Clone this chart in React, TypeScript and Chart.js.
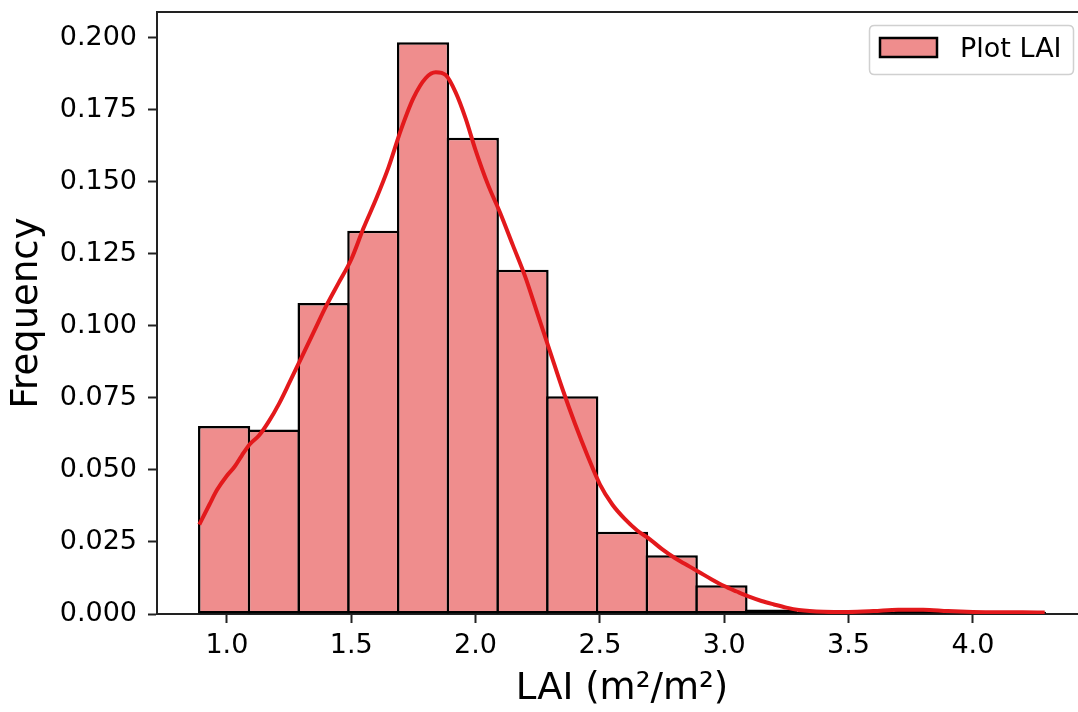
import React, { useEffect, useRef } from 'react';
import { Chart, registerables } from 'chart.js';

Chart.register(...registerables);

// Histogram bins (width 0.2, first edge 0.889)
const binCenters = [0.989, 1.189, 1.389, 1.589, 1.789, 1.989, 2.189, 2.389, 2.589, 2.789, 2.989, 3.189, 3.389, 3.589, 3.789, 3.989, 4.189];
const binFreq = [0.0652, 0.0640, 0.1079, 0.1330, 0.1984, 0.1653, 0.1195, 0.0756, 0.0285, 0.0204, 0.0100, 0.0016, 0.0008, 0.0008, 0.0016, 0.0, 0.0008];

// KDE curve
const kdeX = [0.889, 0.93, 0.96, 1.0, 1.03, 1.06, 1.093, 1.13, 1.17, 1.21, 1.25, 1.30, 1.35, 1.40, 1.45, 1.50, 1.55, 1.60, 1.65, 1.70, 1.75, 1.80, 1.84, 1.88, 1.92, 1.96, 2.00, 2.05, 2.10, 2.15, 2.20, 2.25, 2.30, 2.35, 2.40, 2.45, 2.50, 2.55, 2.60, 2.65, 2.70, 2.75, 2.80, 2.85, 2.90, 2.95, 3.00, 3.05, 3.10, 3.15, 3.20, 3.25, 3.30, 3.40, 3.50, 3.60, 3.70, 3.80, 3.90, 4.00, 4.10, 4.20, 4.289];
const kdeY = [0.031, 0.038, 0.043, 0.048, 0.051, 0.055, 0.059, 0.062, 0.067, 0.073, 0.080, 0.089, 0.098, 0.107, 0.115, 0.123, 0.134, 0.144, 0.155, 0.168, 0.179, 0.186, 0.188, 0.187, 0.181, 0.172, 0.161, 0.149, 0.139, 0.128, 0.117, 0.104, 0.091, 0.078, 0.066, 0.055, 0.045, 0.038, 0.033, 0.029, 0.026, 0.0225, 0.0195, 0.017, 0.0145, 0.012, 0.0097, 0.0078, 0.006, 0.0045, 0.0033, 0.0022, 0.0014, 0.0008, 0.0007, 0.001, 0.0015, 0.0015, 0.001, 0.0007, 0.0006, 0.0006, 0.0005];

const xTicks = [1.0, 1.5, 2.0, 2.5, 3.0, 3.5, 4.0];
const yTicks = [0, 0.025, 0.05, 0.075, 0.1, 0.125, 0.15, 0.175, 0.2];

const legendLabel = 'Plot LAI';
const xTitle = 'LAI (m²/m²)';
const yTitle = 'Frequency';

const FONT = 'DejaVu Sans';
const BAR_COLOR = '#EF8D8D';
const LINE_COLOR = '#E3191C';
const SPINE = '#222222';

const framePlugin = {
  id: 'frameAndLegend',
  afterDraw(chart: any) {
    const { ctx, chartArea } = chart;
    ctx.save();
    // top & right spines
    ctx.strokeStyle = SPINE;
    ctx.lineWidth = 2;
    ctx.beginPath();
    ctx.moveTo(chartArea.left - 1, chartArea.top);
    ctx.lineTo(chartArea.right, chartArea.top);
    ctx.lineTo(chartArea.right, chartArea.bottom);
    ctx.stroke();

    // legend box
    const bx = 869.5, by = 25.5, bw = 204, bh = 49, r = 5;
    ctx.beginPath();
    ctx.moveTo(bx + r, by);
    ctx.lineTo(bx + bw - r, by);
    ctx.quadraticCurveTo(bx + bw, by, bx + bw, by + r);
    ctx.lineTo(bx + bw, by + bh - r);
    ctx.quadraticCurveTo(bx + bw, by + bh, bx + bw - r, by + bh);
    ctx.lineTo(bx + r, by + bh);
    ctx.quadraticCurveTo(bx, by + bh, bx, by + bh - r);
    ctx.lineTo(bx, by + r);
    ctx.quadraticCurveTo(bx, by, bx + r, by);
    ctx.closePath();
    ctx.fillStyle = 'rgba(255,255,255,0.8)';
    ctx.fill();
    ctx.strokeStyle = '#d0d0d0';
    ctx.lineWidth = 1.5;
    ctx.stroke();

    // swatch
    ctx.fillStyle = BAR_COLOR;
    ctx.fillRect(880, 38, 57, 19);
    ctx.strokeStyle = '#000';
    ctx.lineWidth = 2.5;
    ctx.strokeRect(880, 38, 57, 19);

    // text
    ctx.fillStyle = '#000';
    ctx.font = `27px "${FONT}"`;
    ctx.textBaseline = 'alphabetic';
    ctx.textAlign = 'left';
    ctx.fillText(legendLabel, 960, 57);
    ctx.restore();
  },
};

export default function App() {
  const canvasRef = useRef<HTMLCanvasElement | null>(null);

  useEffect(() => {
    if (!canvasRef.current) return;
    const chart = new Chart(canvasRef.current, {
      type: 'bar',
      data: {
        datasets: [
          {
            type: 'line',
            label: 'KDE',
            data: kdeX.map((x, i) => ({ x, y: kdeY[i] })),
            borderColor: LINE_COLOR,
            borderWidth: 4,
            pointRadius: 0,
            cubicInterpolationMode: 'monotone',
            fill: false,
            order: 0,
          } as any,
          {
            type: 'bar',
            label: legendLabel,
            data: binCenters.map((x, i) => ({ x, y: binFreq[i] })),
            backgroundColor: BAR_COLOR,
            borderColor: '#000',
            borderWidth: 2.5,
            borderSkipped: false,
            barPercentage: 1.05,
            categoryPercentage: 1,
            order: 1,
          } as any,
        ],
      },
      options: {
        responsive: false,
        animation: false,
        devicePixelRatio: 1,
        layout: { padding: { top: 12, right: 13, left: 0, bottom: 0 } },
        plugins: {
          legend: { display: false },
          tooltip: { enabled: false },
        },
        scales: {
          x: {
            type: 'linear',
            min: 0.719,
            max: 4.459,
            bounds: 'data',
            offset: false,
            afterBuildTicks: (s: any) => {
              s.ticks = xTicks.map((v) => ({ value: v }));
            },
            afterFit: (s: any) => {
              s.height = 98;
              s.paddingLeft = 0;
              s.paddingRight = 0;
            },
            ticks: {
              callback: (v: any) => Number(v).toFixed(1),
              font: { family: FONT, size: 27 },
              color: '#000',
              padding: 7,
              maxRotation: 0,
              autoSkip: false,
            },
            grid: {
              display: true,
              offset: false,
              drawOnChartArea: false,
              drawTicks: true,
              tickLength: 9,
              tickColor: SPINE,
              tickWidth: 2,
            },
            border: { display: true, color: SPINE, width: 2 },
            title: {
              display: true,
              text: xTitle,
              font: { family: FONT, size: 37 },
              color: '#000',
              padding: { top: 0, bottom: 0 },
            },
          },
          y: {
            type: 'linear',
            min: 0,
            max: 0.2089,
            bounds: 'data',
            afterBuildTicks: (s: any) => {
              s.ticks = yTicks.map((v) => ({ value: v }));
            },
            afterFit: (s: any) => {
              s.width = 157;
              s.paddingTop = 0;
              s.paddingBottom = 0;
            },
            ticks: {
              callback: (v: any) => Number(v).toFixed(3),
              font: { family: FONT, size: 27 },
              color: '#000',
              padding: 11,
              autoSkip: false,
            },
            grid: {
              display: true,
              drawOnChartArea: false,
              drawTicks: true,
              tickLength: 9,
              tickColor: SPINE,
              tickWidth: 2,
            },
            border: { display: true, color: SPINE, width: 2 },
            title: {
              display: true,
              text: yTitle,
              font: { family: FONT, size: 37 },
              color: '#000',
              padding: { top: 5, bottom: 0 },
            },
          },
        },
      } as any,
      plugins: [framePlugin],
    });
    return () => chart.destroy();
  }, []);

  return (
    <div
      style={{
        position: 'absolute',
        left: 0,
        top: 0,
        width: 1078,
        height: 712,
        overflow: 'hidden',
        background: '#fff',
      }}
    >
      <canvas ref={canvasRef} width={1100} height={712} style={{ display: 'block' }} />
    </div>
  );
}
